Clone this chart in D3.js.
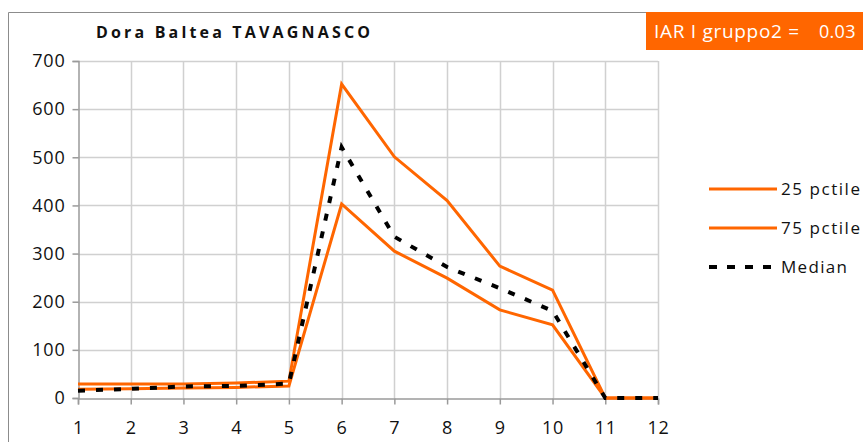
<!DOCTYPE html>
<html>
<head>
<meta charset="utf-8">
<script src="https://cdn.jsdelivr.net/npm/d3@7"></script>
<style>
  body { margin: 0; background: #fff; }
  svg { display: block; font-family: "Open Sans", Lato, sans-serif; }
</style>
</head>
<body>
<script>
// chart data
var months = [1, 2, 3, 4, 5, 6, 7, 8, 9, 10, 11, 12];
var pct25 = [18, 19, 21, 22, 25, 403, 305, 249, 183, 152, 0, 0];
var pct75 = [29, 29, 29, 31, 35, 652, 501, 410, 274, 224, 0, 0];
var median = [15, 19, 24, 25, 30, 521, 335, 272, 228, 181, 0, 0];
var yTicks = [0, 100, 200, 300, 400, 500, 600, 700];
var seriesNames = ["25 pctile", "75 pctile", "Median"];
var title = "Dora Baltea TAVAGNASCO";
var badgeLabel = "IAR I gruppo2 =";
var badgeValue = "0.03";

var width = 863, height = 442;
var orange = "#ff6600";
var font = "'Open Sans', Lato, sans-serif";

var svg = d3.select("body").append("svg")
  .attr("width", width)
  .attr("height", height);

// chart area frame (only left + top are visible)
svg.append("path")
  .attr("d", "M8.5,442 L8.5,12.5 L646,12.5")
  .attr("fill", "none")
  .attr("stroke", "#8c8c8c")
  .attr("stroke-width", 1);

// orange badge top right
svg.append("rect")
  .attr("x", 646).attr("y", 12)
  .attr("width", 230).attr("height", 38)
  .attr("fill", orange);
svg.append("text")
  .attr("x", 654).attr("y", 38)
  .attr("fill", "#fff")
  .style("font-size", "19px")
  .style("letter-spacing", "0.7px")
  .text(badgeLabel);
svg.append("text")
  .attr("x", 819).attr("y", 38)
  .attr("fill", "#fff")
  .style("font-size", "18px")
  .style("letter-spacing", "0.3px")
  .text(badgeValue);

// title
svg.append("text")
  .attr("x", 96).attr("y", 38)
  .style("font-size", "16px")
  .style("font-weight", "bold")
  .attr("textLength", 274)
  .attr("lengthAdjust", "spacing")
  .attr("fill", "#111")
  .text(title);

// scales
var x = d3.scaleLinear().domain([1, 12]).range([78, 658]);
var y = d3.scaleLinear().domain([0, 700]).range([398, 61]);

// grid
svg.append("g").selectAll("line")
  .data(yTicks.slice(1))
  .enter().append("line")
  .attr("x1", x(1)).attr("x2", x(12))
  .attr("y1", function(d) { return Math.round(y(d)) + 0.5; })
  .attr("y2", function(d) { return Math.round(y(d)) + 0.5; })
  .attr("stroke", "#d0d0d0").attr("stroke-width", 1.5);

svg.append("g").selectAll("line")
  .data(months.slice(1))
  .enter().append("line")
  .attr("x1", function(d) { return Math.round(x(d)) + 0.5; })
  .attr("x2", function(d) { return Math.round(x(d)) + 0.5; })
  .attr("y1", y(700)).attr("y2", y(0))
  .attr("stroke", "#d0d0d0").attr("stroke-width", 1.5);

// axes
var yAxis = svg.append("g")
  .attr("transform", "translate(" + (x(1) + 0.5) + ",0)")
  .call(d3.axisLeft(y).tickValues(yTicks).tickSize(6).tickPadding(7));

var xAxis = svg.append("g")
  .attr("transform", "translate(0," + (y(0) + 0.5) + ")")
  .call(d3.axisBottom(x).tickValues(months).tickFormat(d3.format("d")).tickSize(6).tickPadding(17));

[yAxis, xAxis].forEach(function(a) {
  a.select(".domain").attr("stroke", "#9a9a9a").attr("stroke-width", 1.5);
  a.selectAll(".tick line").attr("stroke", "#9a9a9a").attr("stroke-width", 1.5);
  a.selectAll("text")
    .style("font-size", "18px")
    .style("font-family", font)
    .style("letter-spacing", "0.8px")
    .attr("fill", "#111");
});

// lines
var line = d3.line()
  .x(function(d, i) { return x(months[i]); })
  .y(function(d) { return y(d); });

var series = [
  { name: seriesNames[0], values: pct25, color: orange, dash: null, len: 79 },
  { name: seriesNames[1], values: pct75, color: orange, dash: null, len: 79 },
  { name: seriesNames[2], values: median, color: "#000", dash: "7,11", len: 66 }
];

svg.append("g").selectAll("path")
  .data(series)
  .enter().append("path")
  .attr("d", function(d) { return line(d.values); })
  .attr("fill", "none")
  .attr("stroke", function(d) { return d.color; })
  .attr("stroke-width", function(d) { return d.dash ? 4 : 3; })
  .attr("stroke-dasharray", function(d) { return d.dash; });

// legend
var legend = svg.append("g").selectAll("g")
  .data(series)
  .enter().append("g")
  .attr("transform", function(d, i) { return "translate(709," + (189 + i * 39) + ")"; });

legend.append("line")
  .attr("x1", 0).attr("x2", 68)
  .attr("stroke", function(d) { return d.color; })
  .attr("stroke-width", function(d) { return d.dash ? 4 : 3; })
  .attr("stroke-dasharray", function(d) { return d.dash ? "8,10" : null; });

legend.append("text")
  .attr("x", 72).attr("y", 6)
  .style("font-size", "17px")
  .attr("textLength", function(d) { return d.len; })
  .attr("lengthAdjust", "spacing")
  .attr("fill", "#111")
  .text(function(d) { return d.name; });
</script>
</body>
</html>
